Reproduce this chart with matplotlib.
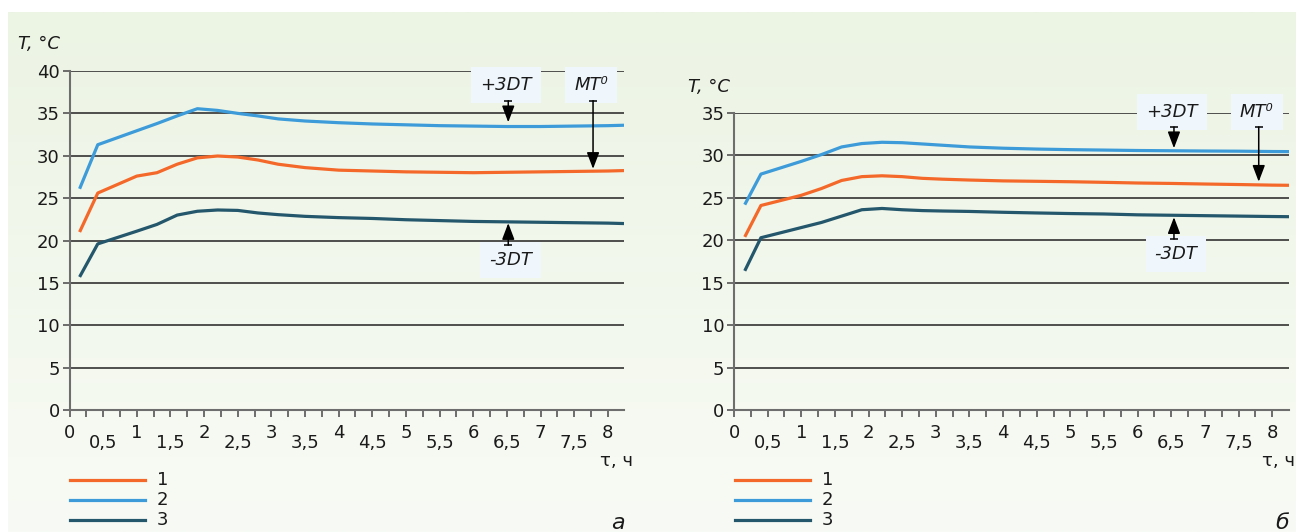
import numpy as np
import matplotlib
matplotlib.use("Agg")
import matplotlib.pyplot as plt
from matplotlib.patches import ArrowStyle

plt.rcParams['font.family'] = ['DejaVu Sans']

# ---------------- data ----------------
t_a = [0.15, 0.42, 1.0, 1.3, 1.6, 1.9, 2.2, 2.5, 2.8, 3.1, 3.5, 4.0, 4.5, 5.0, 5.5, 6.0, 6.5, 7.0, 7.5, 8.0, 8.24]
a_series1 = [21.0, 25.6, 27.6, 28.0, 29.0, 29.75, 29.97, 29.85, 29.5, 29.0, 28.6, 28.3, 28.2, 28.1, 28.05, 28.0, 28.05, 28.1, 28.15, 28.2, 28.25]
a_series2 = [26.1, 31.3, 32.95, 33.8, 34.7, 35.55, 35.35, 35.0, 34.7, 34.35, 34.1, 33.9, 33.75, 33.65, 33.55, 33.5, 33.45, 33.45, 33.5, 33.55, 33.6]
a_series3 = [15.7, 19.6, 21.1, 21.9, 23.0, 23.45, 23.6, 23.55, 23.25, 23.05, 22.85, 22.7, 22.6, 22.45, 22.35, 22.25, 22.2, 22.15, 22.1, 22.05, 22.0]

t_b = [0.16, 0.4, 1.0, 1.3, 1.6, 1.9, 2.2, 2.5, 2.8, 3.1, 3.5, 4.0, 4.5, 5.0, 5.5, 6.0, 6.5, 7.0, 7.5, 8.0, 8.25]
b_series1 = [20.4, 24.1, 25.3, 26.1, 27.05, 27.5, 27.6, 27.5, 27.3, 27.2, 27.1, 27.0, 26.95, 26.9, 26.83, 26.75, 26.7, 26.63, 26.57, 26.5, 26.48]
b_series2 = [24.2, 27.8, 29.3, 30.1, 31.0, 31.4, 31.55, 31.5, 31.35, 31.2, 31.0, 30.85, 30.75, 30.68, 30.63, 30.58, 30.55, 30.52, 30.5, 30.46, 30.45]
b_series3 = [16.4, 20.3, 21.5, 22.1, 22.85, 23.6, 23.75, 23.6, 23.5, 23.45, 23.4, 23.3, 23.22, 23.15, 23.1, 23.0, 22.95, 22.9, 22.85, 22.8, 22.78]

series_labels = ["1", "2", "3"]
x_tick_values = [0, 0.5, 1, 1.5, 2, 2.5, 3, 3.5, 4, 4.5, 5, 5.5, 6, 6.5, 7, 7.5, 8]
x_tick_labels = ["0", "0,5", "1", "1,5", "2", "2,5", "3", "3,5", "4", "4,5", "5", "5,5", "6", "6,5", "7", "7,5", "8"]
a_yticks = [0, 5, 10, 15, 20, 25, 30, 35, 40]
b_yticks = [0, 5, 10, 15, 20, 25, 30, 35]

COL1 = '#f4692a'
COL2 = '#3d9bd9'
COL3 = '#24566c'
BOXC = '#eff7fc'

W, H = 1296, 532
fig = plt.figure(figsize=(W / 100, H / 100), dpi=100)
fig.patch.set_facecolor('white')

# background gradient
bg = fig.add_axes([8 / W, 0, 1 - 8 / W, (H - 12) / H], zorder=-10)
top = np.array([0xec, 0xf4, 0xe4]) / 255
bot = np.array([0xf8, 0xfb, 0xf5]) / 255
g = np.linspace(0, 1, 256)[:, None, None]
img = top * (1 - g) + bot * g
bg.imshow(np.repeat(img, 2, axis=1), aspect='auto', extent=[0, 1, 0, 1])
bg.axis('off')


def pax(x0, x1, y0, y1):
    return fig.add_axes([x0 / W, (H - y0) / H, (x1 - x0) / W, (y0 - y1) / H])


def setup(ax, xmax, yticks, ymax):
    ax.set_facecolor('none')
    ax.set_xlim(0, xmax)
    ax.set_ylim(0, ymax)
    for s in ['top', 'right']:
        ax.spines[s].set_visible(False)
    for s in ['left', 'bottom']:
        ax.spines[s].set_color('#6e6e6e')
        ax.spines[s].set_linewidth(1.5)
    for yv in yticks[1:]:
        ax.axhline(yv, color='#333333', lw=1.2, zorder=1)
    ax.set_yticks(yticks)
    ax.set_yticklabels([str(v) for v in yticks])
    ax.set_xticks(x_tick_values)
    ax.set_xticklabels(x_tick_labels)
    ax.set_xticks(np.arange(0, 8.01, 0.25), minor=True)
    ax.tick_params(axis='both', which='both', direction='out', length=5, width=1.2,
                   color='#555555', labelsize=13, labelcolor='#1a1a1a')
    ax.tick_params(axis='y', pad=2)
    for v, tk in zip(x_tick_values, ax.xaxis.get_major_ticks()):
        tk.set_pad(5 if float(v).is_integer() else 12)


def draw(ax, t, s1, s2, s3):
    ax.plot(t, s1, color=COL1, lw=2.3, zorder=3, solid_capstyle='butt')
    ax.plot(t, s2, color=COL2, lw=2.3, zorder=3, solid_capstyle='butt')
    ax.plot(t, s3, color=COL3, lw=2.3, zorder=3, solid_capstyle='butt')


def box(ax, x, y, txt):
    ax.text(x, y, txt, ha='center', va='center', fontsize=13, style='italic',
            color='#1a1a1a', zorder=5,
            bbox=dict(boxstyle='square,pad=0.5', fc=BOXC, ec='none'))


def arrow(ax, x, y0, y1):
    ax.annotate('', xy=(x, y1), xytext=(x, y0), zorder=6,
                arrowprops=dict(arrowstyle=ArrowStyle('-|>', head_length=1.0, head_width=0.38),
                                color='black', lw=1.1, shrinkA=0, shrinkB=0))
    ax.plot([x], [y0], marker='_', ms=6, mew=1.1, color='black', zorder=6)


# ---- chart a ----
axa = pax(69.5, 624, 410, 71)
setup(axa, 8.24, a_yticks, 40)
draw(axa, t_a, a_series1, a_series2, a_series3)
box(axa, 6.49, 38.35, '+3DT')
box(axa, 7.75, 38.35, 'MT⁰')
box(axa, 6.56, 17.7, '-3DT')
arrow(axa, 6.52, 36.5, 33.95)
arrow(axa, 7.78, 36.5, 28.45)
arrow(axa, 6.52, 19.45, 22.05)

# ---- chart b ----
axb = pax(734, 1289, 410, 113)
setup(axb, 8.25, b_yticks, 35)
draw(axb, t_b, b_series1, b_series2, b_series3)
box(axb, 6.51, 35.1, '+3DT')
box(axb, 7.77, 35.1, 'MT⁰')
box(axb, 6.57, 18.4, '-3DT')
arrow(axb, 6.54, 33.35, 30.85)
arrow(axb, 7.8, 33.35, 26.9)
arrow(axb, 6.54, 20.15, 22.72)


def ftext(x, y, s, **kw):
    fig.text(x / W, 1 - y / H, s, **kw)


ftext(18, 44, 'T, °C', fontsize=13, style='italic', va='center', ha='left', color='#1a1a1a')
ftext(688, 87, 'T, °C', fontsize=13, style='italic', va='center', ha='left', color='#1a1a1a')
ftext(600, 461, 'τ, ч', fontsize=13, va='center', ha='left', color='#1a1a1a')
ftext(1262, 461, 'τ, ч', fontsize=13, va='center', ha='left', color='#1a1a1a')

# legends
for x0, x1 in [(70, 145), (735, 810)]:
    for i, (col, lab) in enumerate(zip([COL1, COL2, COL3], series_labels)):
        yy = 480 + 20 * i
        fig.add_artist(plt.Line2D([x0 / W, x1 / W], [1 - yy / H, 1 - yy / H], color=col, lw=2.3))
        ftext(x1 + 12, yy, lab, fontsize=13, va='center', ha='left', color='#1a1a1a')

ftext(618, 523, 'а', fontsize=16, style='italic', va='center', ha='center', color='#1a1a1a')
ftext(1282, 523, 'б', fontsize=16, style='italic', va='center', ha='center', color='#1a1a1a')

fig.savefig('out.png', dpi=100)
